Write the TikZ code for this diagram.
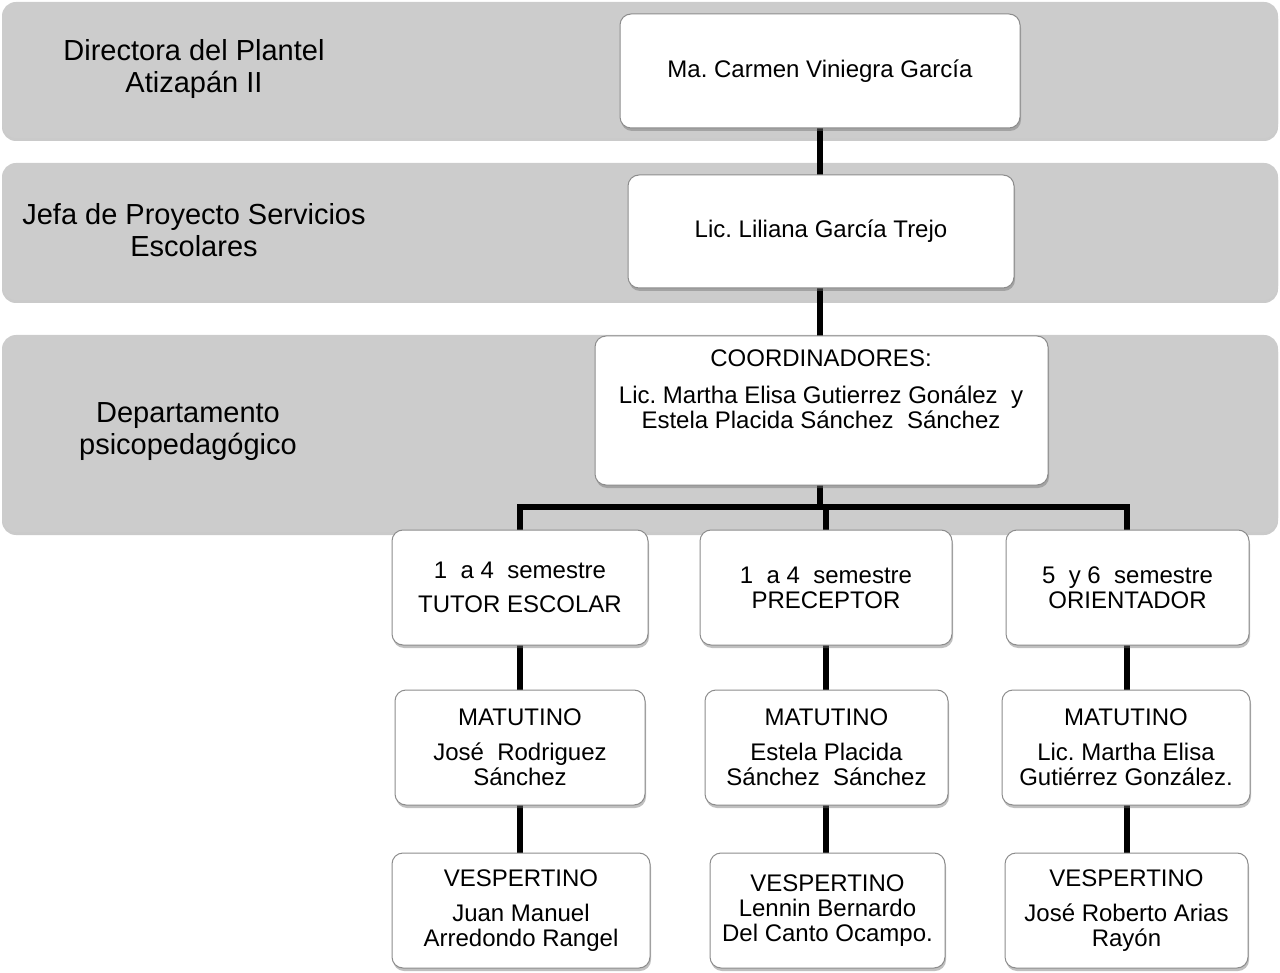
\documentclass[tikz,border=0pt]{standalone}
\usepackage{fontspec}
\setmainfont{Liberation Sans}
\frenchspacing
\usetikzlibrary{shadows}
\definecolor{bandgray}{HTML}{CCCCCC}
\definecolor{boxline}{HTML}{8C8C8C}
\pgfdeclarelayer{bg}
\pgfdeclarelayer{lines}
\pgfsetlayers{bg,lines,main}
\tikzset{
  band/.style={fill=bandgray, rounded corners=14pt,
    drop shadow={shadow xshift=0pt, shadow yshift=-3pt, opacity=0.35, fill=black!60}},
  orgbox/.style={draw=boxline, line width=1pt, fill=white, rounded corners=11pt,
    inner sep=0pt, align=center, font=\fontsize{24}{25}\selectfont,
    drop shadow={shadow xshift=1pt, shadow yshift=-3pt, opacity=0.45, fill=black!55}},
  lbl/.style={align=center, inner sep=0pt, font=\fontsize{29}{32}\selectfont},
  conn/.style={line width=5.5pt, draw=black, line cap=rect, line join=miter}
}
\begin{document}
\begin{tikzpicture}[x=1pt, y=-1pt]
\useasboundingbox (0,0) rectangle (1280,973);
\begin{pgfonlayer}{bg}
  \fill[band] (2,2) rectangle (1278,138);
  \fill[band] (2,163) rectangle (1278,300);
  \fill[band] (2,335) rectangle (1278,532);
\end{pgfonlayer}

% left labels
\node[lbl] (l1) at (194,69) {Directora del Plantel\\Atizapán II};
\node[lbl] (l2) at (194,230) {Jefa de Proyecto Servicios\\Escolares};
\node[lbl] (l3) at (188,432) {Departamento\\psicopedagógico};

% boxes
\node[orgbox, minimum width=400pt, minimum height=114pt] (carmen) at (820,71) {Ma. Carmen Viniegra García};
\node[orgbox, minimum width=386pt, minimum height=113pt] (lili) at (821,231.5) {Lic. Liliana García Trejo};
\node[orgbox, minimum width=453pt, minimum height=149pt] (coord) at (821.5,410.5) {};
\node[align=center, inner sep=0pt, font=\fontsize{24}{25}\selectfont] (coordtxt) at (821,389)
  {COORDINADORES:\\[12pt]Lic. Martha Elisa Gutierrez Gonález\ \ y\\Estela Placida Sánchez\ \ Sánchez};

\node[orgbox, minimum width=256pt, minimum height=115pt] (r1c1) at (520,587.5) {1\ \ a 4\ \ semestre\\[9pt]TUTOR ESCOLAR};
\node[orgbox, minimum width=252pt, minimum height=115pt] (r1c2) at (826,587.5) {1\ \ a 4\ \ semestre\\PRECEPTOR};
\node[orgbox, minimum width=243pt, minimum height=115pt] (r1c3) at (1127.5,587.5) {5\ \ y 6\ \ semestre\\ORIENTADOR};

\node[orgbox, minimum width=250pt, minimum height=115pt] (r2c1) at (520,747.5) {MATUTINO\\[10pt]José\ \ Rodriguez\\Sánchez};
\node[orgbox, minimum width=243pt, minimum height=115pt] (r2c2) at (826.5,747.5) {MATUTINO\\[10pt]Estela Placida\\Sánchez\ \ Sánchez};
\node[orgbox, minimum width=248pt, minimum height=115pt] (r2c3) at (1126,747.5) {MATUTINO\\[10pt]Lic. Martha Elisa\\Gutiérrez González.};

\node[orgbox, minimum width=258pt, minimum height=115pt] (r3c1) at (521,910.5) {VESPERTINO\\[10pt]Juan Manuel\\Arredondo Rangel};
\node[orgbox, minimum width=235pt, minimum height=115pt] (r3c2) at (827.5,910.5) {VESPERTINO\\Lennin Bernardo\\Del Canto Ocampo.};
\node[orgbox, minimum width=243pt, minimum height=115pt] (r3c3) at (1126.5,910.5) {VESPERTINO\\[10pt]José Roberto Arias\\Rayón};

\coordinate (bar) at (820,507);

\begin{pgfonlayer}{lines}
  \draw[conn] (820,128) -- (820,175);
  \draw[conn] (820,288) -- (820,336);
  \draw[conn] (820,485) -- (bar);
  \draw[conn] (r1c1.north) -- (r1c1.north |- bar) -- (1127,507) -- (1127,530);
  \draw[conn] (826,507) -- (826,530);
  \draw[conn] (520,645) -- (520,690);
  \draw[conn] (826,645) -- (826,690);
  \draw[conn] (1127,645) -- (1127,690);
  \draw[conn] (520,805) -- (520,853);
  \draw[conn] (826,805) -- (826,853);
  \draw[conn] (1127,805) -- (1127,853);
\end{pgfonlayer}
\end{tikzpicture}
\end{document}
